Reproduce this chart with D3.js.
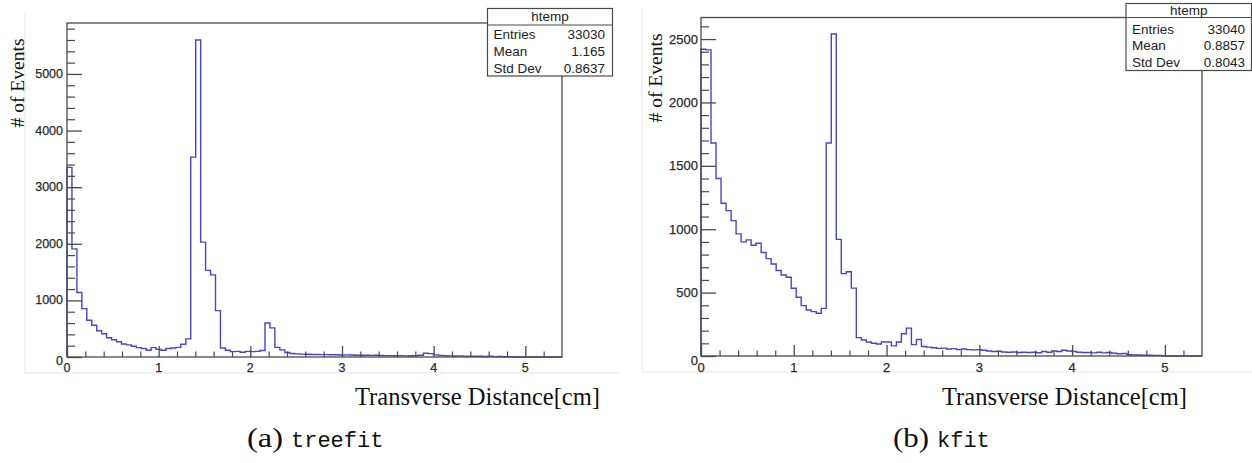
<!DOCTYPE html>
<html>
<head>
<meta charset="utf-8">
<script src="https://cdn.jsdelivr.net/npm/d3@7"></script>
<style>
  html, body { margin: 0; padding: 0; background: #fff; }
  svg { display: block; }
</style>
</head>
<body>
<svg id="chart" width="1252" height="463"></svg>
<script>
// Histogram binning: 100 bins on [0, 5.4] cm
const binCount = 100;
const xRange = [0, 5.4];

// (a) treefit – counts per bin
const treefitCounts = [
  3350, 1910, 1140, 855, 650, 560, 465, 410, 340, 305,
  270, 230, 215, 190, 165, 150, 120, 165, 135, 120,
  150, 160, 170, 225, 320, 3530, 5600, 2030, 1530, 1450,
  820, 160, 120, 95, 100, 85, 100, 95, 100, 115,
  600, 515, 170, 125, 80, 62, 55, 50, 48, 45,
  45, 42, 42, 40, 40, 36, 38, 35, 32, 30,
  30, 28, 30, 26, 25, 25, 22, 24, 20, 22,
  25, 30, 65, 60, 38, 28, 22, 20, 18, 20,
  15, 16, 12, 14, 10, 12, 6, 10, 5, 6,
  0, 0, 0, 0, 0, 0, 0, 0, 0, 0
];

// (b) kfit – counts per bin
const kfitCounts = [
  2420, 2415, 1680, 1400, 1205, 1147, 1068, 963, 900, 916,
  874, 889, 816, 768, 726, 674, 639, 621, 534, 463,
  397, 363, 350, 337, 376, 1680, 2540, 920, 650, 665,
  535, 145, 126, 110, 100, 95, 110, 110, 80, 110,
  175, 220, 90, 130, 75, 70, 65, 60, 62, 55,
  58, 50, 55, 50, 48, 50, 45, 40, 35, 38,
  32, 30, 32, 28, 30, 28, 30, 26, 35, 30,
  40, 35, 45, 40, 35, 30, 28, 28, 25, 30,
  25, 28, 22, 18, 20, 10, 8, 8, 6, 6,
  5, 5, 0, 0, 0, 0, 0, 0, 0, 0
];

// Stat box contents
const treefitStats = [["Entries", "33030"], ["Mean", "1.165"], ["Std Dev", "0.8637"]];
const kfitStats = [["Entries", "33040"], ["Mean", "0.8857"], ["Std Dev", "0.8043"]];

// Axis ticks
const treefitYTicks = [0, 1000, 2000, 3000, 4000, 5000];
const kfitYTicks = [0, 500, 1000, 1500, 2000, 2500];
const xTicks = [0, 1, 2, 3, 4, 5];

const xTitle = "Transverse Distance[cm]";
const yTitle = "# of Events";

const svg = d3.select("#chart");
const lineColor = "#4646c6";
const frameColor = "#4a4a4a";
const sans = "'Liberation Sans', Arial, Helvetica, sans-serif";
const serif = "'Liberation Serif', 'Times New Roman', serif";
const mono = "'Liberation Mono', 'DejaVu Sans Mono', monospace";

function drawPanel(p) {
  const g = svg.append("g");

  // faint border of the embedded canvas
  g.append("path")
    .attr("d", `M${p.imgLeft},${p.imgTop} V${p.imgBottom} H${p.imgRight}`)
    .attr("fill", "none").attr("stroke", "#e6e6e6").attr("stroke-width", 1);

  const x = d3.scaleLinear().domain(xRange).range([p.left, p.right]);
  const y = d3.scaleLinear().domain([0, p.yMax]).range([p.bottom, p.top]);

  // histogram outline as a step path
  const w = (xRange[1] - xRange[0]) / binCount;
  const pts = [[xRange[0], 0]];
  p.counts.forEach((c, i) => {
    pts.push([xRange[0] + i * w, c]);
    pts.push([xRange[0] + (i + 1) * w, c]);
  });
  pts.push([xRange[1], 0]);
  const line = d3.line().x(d => x(d[0])).y(d => y(d[1]));
  g.append("path")
    .attr("d", line(pts))
    .attr("fill", "none")
    .attr("stroke", lineColor)
    .attr("stroke-width", 1.4)
    .attr("stroke-linejoin", "miter");

  // frame
  g.append("rect")
    .attr("x", p.left).attr("y", p.top)
    .attr("width", p.right - p.left).attr("height", p.bottom - p.top)
    .attr("fill", "none").attr("stroke", frameColor).attr("stroke-width", 1.3);

  // y axis: major ticks with labels, minor ticks pointing inward
  const yAxis = d3.axisRight(y)
    .tickValues(p.yTicks)
    .tickSize(15)
    .tickPadding(0)
    .tickFormat("");
  const yAx = g.append("g").attr("transform", `translate(${p.left},0)`).call(yAxis);
  yAx.select(".domain").remove();
  yAx.selectAll(".tick line").attr("stroke", frameColor).attr("stroke-width", 1.3);

  const yMinor = d3.range(0, p.yMax, p.yMinorStep).filter(v => !p.yTicks.includes(v));
  const yMin = g.append("g").attr("transform", `translate(${p.left},0)`)
    .call(d3.axisRight(y).tickValues(yMinor).tickSize(8).tickFormat(""));
  yMin.select(".domain").remove();
  yMin.selectAll(".tick line").attr("stroke", frameColor).attr("stroke-width", 1.2);

  g.selectAll(".ylab").data(p.yTicks).join("text")
    .attr("x", p.left - p.yLabelGap)
    .attr("y", d => y(d) + (d === 0 ? 4 : 0))
    .attr("text-anchor", "end")
    .attr("dominant-baseline", "central")
    .attr("font-family", sans)
    .attr("font-size", p.tickFont)
    .attr("fill", "#2a2a2a")
    .attr("stroke", "#2a2a2a").attr("stroke-width", 0.25)
    .text(d => d);

  // x axis: ticks pointing up into the frame
  const xMajor = g.append("g").attr("transform", `translate(0,${p.bottom})`)
    .call(d3.axisTop(x).tickValues(xTicks).tickSize(11).tickFormat(""));
  xMajor.select(".domain").remove();
  xMajor.selectAll(".tick line").attr("stroke", frameColor).attr("stroke-width", 1.3);

  const xMinorVals = d3.range(0, 27).map(k => k * 0.2).filter(v => Math.abs(v - Math.round(v)) > 1e-6);
  const xMinor = g.append("g").attr("transform", `translate(0,${p.bottom})`)
    .call(d3.axisTop(x).tickValues(xMinorVals).tickSize(5.5).tickFormat(""));
  xMinor.select(".domain").remove();
  xMinor.selectAll(".tick line").attr("stroke", frameColor).attr("stroke-width", 1.2);

  g.selectAll(".xlab").data(xTicks).join("text")
    .attr("x", d => x(d))
    .attr("y", 372)
    .attr("text-anchor", "middle")
    .attr("font-family", sans)
    .attr("font-size", p.tickFont)
    .attr("fill", "#2a2a2a")
    .attr("stroke", "#2a2a2a").attr("stroke-width", 0.25)
    .text(d => d);

  // axis titles
  g.append("text")
    .attr("transform", `translate(${p.yTitleX},${p.yTitleY}) rotate(-90)`)
    .attr("text-anchor", "middle")
    .attr("dominant-baseline", "central")
    .attr("font-family", serif)
    .attr("font-size", 19.5)
    .attr("fill", "#111")
    .attr("textLength", 89)
    .attr("lengthAdjust", "spacingAndGlyphs")
    .text(yTitle);

  g.append("text")
    .attr("x", p.xTitleRight - 245)
    .attr("y", 405)
    .attr("font-family", serif)
    .attr("font-size", 26)
    .attr("fill", "#111")
    .attr("textLength", 245)
    .attr("lengthAdjust", "spacingAndGlyphs")
    .text(xTitle);

  // statistics box
  const b = p.box;
  const bg = g.append("g");
  bg.append("rect")
    .attr("x", b.x0).attr("y", b.y0)
    .attr("width", b.x1 - b.x0).attr("height", b.y1 - b.y0)
    .attr("fill", "#fff").attr("stroke", frameColor).attr("stroke-width", 1.2);
  bg.append("line")
    .attr("x1", b.x0).attr("x2", b.x1).attr("y1", b.sep).attr("y2", b.sep)
    .attr("stroke", frameColor).attr("stroke-width", 1.2);
  bg.append("text")
    .attr("x", (b.x0 + b.x1) / 2).attr("y", (b.y0 + b.sep) / 2)
    .attr("text-anchor", "middle").attr("dominant-baseline", "central")
    .attr("font-family", sans).attr("font-size", 13.5).attr("fill", "#222")
    .text("htemp");
  p.stats.forEach((s, i) => {
    const cy = b.rowY[i];
    bg.append("text")
      .attr("x", b.x0 + 6).attr("y", cy)
      .attr("dominant-baseline", "central")
      .attr("font-family", sans).attr("font-size", 13.5).attr("fill", "#222")
      .text(s[0]);
    bg.append("text")
      .attr("x", b.valRight).attr("y", cy)
      .attr("text-anchor", "end")
      .attr("dominant-baseline", "central")
      .attr("font-family", sans).attr("font-size", 13.5).attr("fill", "#222")
      .text(s[1]);
  });

  // sub-figure caption
  const cap = g.append("text")
    .attr("x", p.captionX).attr("y", 447)
    .attr("fill", "#111");
  cap.append("tspan").attr("font-family", serif).attr("font-size", 27)
    .attr("textLength", 36).attr("lengthAdjust", "spacingAndGlyphs")
    .text(p.captionTag);
  cap.append("tspan").attr("font-family", mono).attr("font-size", 22)
    .attr("dx", 8)
    .text(p.captionName);
}

drawPanel({
  counts: treefitCounts,
  stats: treefitStats,
  yTicks: treefitYTicks,
  yMinorStep: 200,
  yMax: 5900,
  left: 67, right: 562, top: 23, bottom: 357,
  yLabelGap: 4,
  tickFont: 12.5,
  yTitleX: 17, yTitleY: 83,
  xTitleRight: 600,
  imgLeft: 25, imgTop: 12, imgBottom: 373, imgRight: 620,
  box: { x0: 487.5, x1: 612.5, y0: 8.5, y1: 76, sep: 25, rowY: [34.5, 51, 68], valRight: 605 },
  captionX: 247, captionTag: "(a)", captionName: "treefit"
});

drawPanel({
  counts: kfitCounts,
  stats: kfitStats,
  yTicks: kfitYTicks,
  yMinorStep: 100,
  yMax: 2670,
  left: 701, right: 1202, top: 17.5, bottom: 356,
  yLabelGap: 3,
  tickFont: 13,
  yTitleX: 655, yTitleY: 78,
  xTitleRight: 1187,
  imgLeft: 642, imgTop: 8, imgBottom: 372, imgRight: 1252,
  box: { x0: 1126, x1: 1251.5, y0: 3.5, y1: 70.5, sep: 17.5, rowY: [29.5, 45.5, 62], valRight: 1245 },
  captionX: 893, captionTag: "(b)", captionName: "kfit"
});
</script>
</body>
</html>
